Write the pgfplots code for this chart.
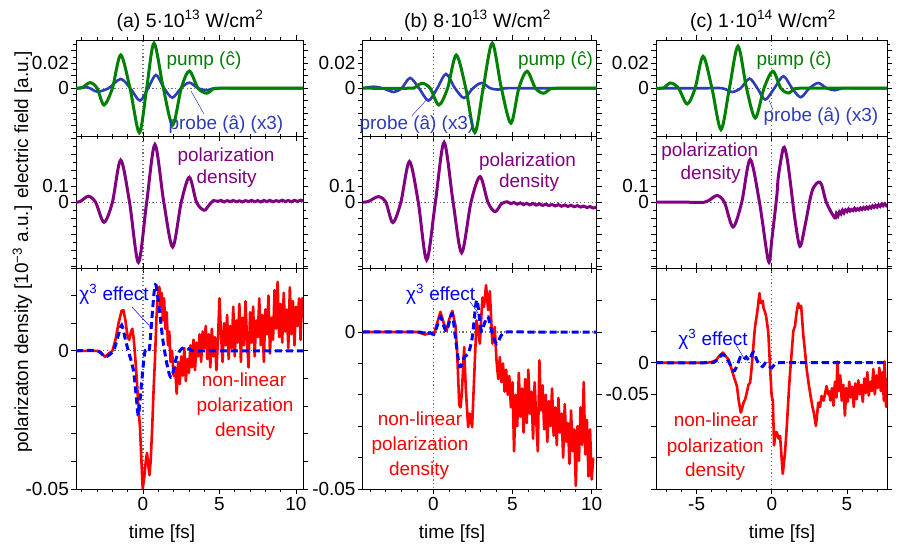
\documentclass[border=0pt]{standalone}
\usepackage{fontspec}
\setmainfont{Liberation Sans}
\usepackage{pgfplots}
\pgfplotsset{compat=1.18}
\definecolor{pumpgreen}{RGB}{0,128,0}
\definecolor{probeblue}{RGB}{45,60,185}
\definecolor{purp}{RGB}{128,0,128}
\definecolor{chiblue}{RGB}{0,0,255}
\definecolor{nlred}{RGB}{255,0,0}
\definecolor{zgray}{RGB}{110,110,110}
\newcommand{\F}{\fontsize{19}{22}\selectfont}
\pgfplotsset{
  base/.style={
    scale only axis, clip=true,
    scaled x ticks=false, scaled y ticks=false,
    axis line style={line width=0.9bp},
    tick align=outside,
    major tick length=5bp, minor tick length=3bp,
    every tick/.style={black, line width=0.7bp},
    tick label style={font=\F},
    yticklabel style={inner xsep=2bp, inner ysep=0bp},
    xticklabels={},
  },
  colA/.style={xmin=-4.38, xmax=10.46, xtick={0,5,10}, minor xtick={-4,-3,-2,-1,1,2,3,4,6,7,8,9}, width=227bp},
  colB/.style={xmin=-4.46, xmax=10.32, xtick={0,5,10}, minor xtick={-4,-3,-2,-1,1,2,3,4,6,7,8,9}, width=234bp},
  colC/.style={xmin=-7.7, xmax=7.66, xtick={-5,0,5}, minor xtick={-7,-6,-4,-3,-2,-1,1,2,3,4,6,7}, width=231bp},
  rowTop/.style={height=96.5bp, ymin=-0.0386, ymax=0.0386,
    ytick={-0.03,-0.02,-0.01,0,0.01,0.02,0.03}, yticklabels={{},{},{},0,{},0.02,{}},
    minor ytick={-0.035,-0.025,-0.015,-0.005,0.005,0.015,0.025,0.035}},
  rowMid/.style={height=131.5bp, ymin=-0.41, ymax=0.41,
    ytick={-0.4,-0.3,-0.2,-0.1,0,0.1,0.2,0.3,0.4}, yticklabels={{},{},{},{},0,0.1,{},{},{}},
    minor ytick={-0.35,-0.25,-0.15,-0.05,0.05,0.15,0.25,0.35}},
  zline/.style={zgray, line width=1.2bp, dash pattern=on 1.2bp off 2.6bp},
  pumpst/.style={pumpgreen, line width=3bp, smooth},
  probest/.style={probeblue, line width=2.6bp, smooth},
  polst/.style={purp, line width=3bp, smooth},
  redst/.style={nlred, line width=2.6bp, line join=round},
  chist/.style={chiblue, line width=3bp, dash pattern=on 7bp off 4bp, smooth},
}
\begin{document}
\begin{tikzpicture}
\path[use as bounding box] (0,0) rectangle (902bp,-548bp);

%% ---------------- column (a) ----------------
\begin{axis}[base, colA, rowTop, at={(76bp,-40bp)}, anchor=north west]
\addplot[zline] coordinates {(-20,0) (20,0)};
\addplot[zline] coordinates {(0,-1) (0,1)};
\addplot[probest] coordinates {(-4.38,0) (-3.6,0.0006) (-3.0,-0.0027) (-2.25,0) (-1.46,0.0074) (-0.83,0) (-0.2,-0.0099) (0.33,0) (0.85,0.0106) (1.38,0) (1.92,-0.0075) (2.48,0) (3.03,0.0045) (3.6,0) (4.2,-0.0015) (4.7,0) (6,0) (10.46,0)};
\addplot[pumpst] coordinates {(-4.38,0) (-4.0,0.0003) (-3.46,0.0045) (-3.0,0) (-2.55,-0.0134) (-2.0,0) (-1.46,0.0266) (-0.85,0) (-0.24,-0.0355) (0.24,0) (0.72,0.036) (1.33,0) (1.94,-0.0294) (2.5,0) (3.03,0.0138) (3.6,0) (4.16,-0.004) (4.6,-0.0005) (5.0,0) (6,0) (10.46,0)};
\end{axis}
\begin{axis}[base, colA, rowMid, at={(76bp,-136.5bp)}, anchor=north west]
\addplot[zline] coordinates {(-20,0) (20,0)};
\addplot[zline] coordinates {(0,-1) (0,1)};
\addplot[polst] coordinates {(-4.38,0) (-4.1,0.005) (-3.57,0.0375) (-3.1,0) (-2.55,-0.125) (-2.0,0) (-1.46,0.263) (-0.88,0) (-0.3,-0.375) (0.24,0) (0.78,0.36) (1.36,0) (1.94,-0.279) (2.5,0) (3.03,0.156) (3.5,0) (3.99,-0.05) (4.3,-0.02) (4.6,0.01) (4.9,0.005) (5.1,0.012) (5.3,0.002) (5.5,0.01) (5.7,0.004) (5.9,0.011) (6.1,0.003) (6.3,0.009) (6.5,0.002) (6.7,0.01) (6.9,0.004) (7.1,0.012) (7.3,0.003) (7.5,0.01) (7.7,0.002) (7.9,0.011) (8.1,0.004) (8.3,0.012) (8.5,0.003) (8.7,0.01) (8.9,0.005) (9.1,0.013) (9.3,0.004) (9.5,0.011) (9.7,0.003) (9.9,0.012) (10.1,0.005) (10.3,0.013) (10.46,0.008)};
\end{axis}
\begin{axis}[base, colA, height=221bp, ymin=-0.05, ymax=0.03,
  ytick={-0.05,-0.04,-0.03,-0.02,-0.01,0,0.01,0.02,0.03}, yticklabels={-0.05,{},{},{},{},0,{},{},{}},
  xticklabels={0,5,10}, at={(76bp,-268bp)}, anchor=north west]
\addplot[zline] coordinates {(-20,0) (20,0)};
\addplot[zline] coordinates {(0,-1) (0,1)};
\addplot[redst] coordinates {(-4.38,0) (-3.0,0) (-2.7,-0.001) (-2.48,-0.0022) (-2.25,-0.001) (-2.0,0) (-1.8,0.004) (-1.6,0.010) (-1.4,0.0145) (-1.28,0.0147) (-1.15,0.011) (-1.0,0.005) (-0.9,0.004) (-0.78,0.007) (-0.7,0.008) (-0.6,0.004) (-0.5,-0.003) (-0.41,-0.010) (-0.3,-0.020) (-0.2,-0.0275) (-0.1,-0.040) (-0.02,-0.0499) (0.08,-0.046) (0.18,-0.040) (0.26,-0.037) (0.34,-0.041) (0.42,-0.045) (0.5,-0.040) (0.6,-0.028) (0.7,-0.013) (0.78,-0.0034) (0.88,0.012) (0.97,0.020) (1.07,0.0232) (1.15,0.016) (1.22,0.021) (1.3,0.011) (1.38,0.019) (1.46,0.008) (1.55,0.014) (1.63,0.002) (1.72,0.007) (1.8,-0.004) (1.9,0.000) (2.0,-0.009) (2.1,-0.006) (2.2,-0.0155) (2.3,-0.004) (2.4,-0.012) (2.5,-0.002) (2.6,-0.009) (2.7,0.001) (2.8,-0.011) (2.9,-0.003) (3.0,-0.008) (3.1,0.002) (3.2,-0.006) (3.3,0.004) (3.4,-0.007) (3.5,0.003) (3.6,-0.002) (3.7,0.006) (3.8,-0.004) (3.9,0.007) (4.0,0.001) (4.1,0.009) (4.2,-0.003) (4.3,0.006) (4.4,-0.006) (4.5,0.008) (4.6,-0.002) (4.7,0.005) (4.8,-0.007) (4.9,0.004) (5.0,0.019) (5.1,0.006) (5.2,-0.004) (5.3,0.010) (5.4,0.002) (5.5,0.013) (5.6,-0.003) (5.7,0.009) (5.8,0.001) (5.9,0.016) (6.0,-0.002) (6.1,0.011) (6.2,0.003) (6.3,0.017) (6.4,-0.004) (6.5,0.012) (6.6,0.002) (6.7,0.018) (6.8,0.004) (6.9,-0.006) (7.0,0.014) (7.1,0.003) (7.2,0.016) (7.3,-0.002) (7.4,0.011) (7.5,0.005) (7.6,0.019) (7.7,0.002) (7.8,0.013) (7.9,-0.004) (8.0,0.015) (8.1,0.006) (8.2,0.020) (8.3,-0.001) (8.4,0.012) (8.5,0.004) (8.6,0.022) (8.7,0.008) (8.8,0.025) (8.9,0.005) (9.0,0.017) (9.1,0.003) (9.2,0.021) (9.3,0.007) (9.4,0.015) (9.5,0.001) (9.6,0.023) (9.7,0.006) (9.8,0.018) (9.9,0.002) (10.0,0.016) (10.1,0.009) (10.2,0.019) (10.3,0.004) (10.4,0.019) (10.46,0.012)};
\addplot[chist] coordinates {(-4.38,0) (-2.95,0) (-2.48,-0.0022) (-1.94,0) (-1.65,0.005) (-1.39,0.0093) (-1.15,0.004) (-0.96,0) (-0.63,-0.007) (-0.45,-0.016) (-0.3,-0.0233) (-0.1,-0.012) (0.1,-0.001) (0.24,0.0003) (0.41,0.0005) (0.6,0.013) (0.72,0.0208) (0.85,0.0238) (1.07,0.0148) (1.33,0.0027) (1.65,-0.007) (1.87,-0.0094) (2.2,-0.0022) (2.53,0.0008) (2.85,0.0012) (3.28,0) (4.5,0) (10.46,0)};
\end{axis}

%% ---------------- column (b) ----------------
\begin{axis}[base, colB, rowTop, at={(362.7bp,-40bp)}, anchor=north west]
\addplot[zline] coordinates {(-20,0) (20,0)};
\addplot[zline] coordinates {(0,-1) (0,1)};
\addplot[probest] coordinates {(-4.46,0) (-3.8,0.0012) (-3.2,0) (-2.5,-0.003) (-2.0,0) (-1.47,0.0082) (-0.9,0) (-0.31,-0.0099) (0.25,0) (0.8,0.0114) (1.37,0) (1.94,-0.0078) (2.5,0) (3.05,0.0042) (3.6,0) (4.1,-0.0011) (4.6,0) (6,0) (10.32,0)};
\addplot[pumpst] coordinates {(-4.46,0) (-1.5,0) (-1.2,0.0004) (-0.7,0.004) (-0.2,0) (0.35,-0.0134) (0.9,0) (1.45,0.0266) (2.05,0) (2.62,-0.0355) (3.15,0) (3.72,0.036) (4.3,0) (4.9,-0.028) (5.4,0) (5.92,0.0136) (6.45,0) (6.95,-0.004) (7.4,-0.0005) (7.8,0) (9,0) (10.32,0)};
\end{axis}
\begin{axis}[base, colB, rowMid, at={(362.7bp,-136.5bp)}, anchor=north west]
\addplot[zline] coordinates {(-20,0) (20,0)};
\addplot[zline] coordinates {(0,-1) (0,1)};
\addplot[polst] coordinates {(-4.46,0) (-4.1,0.005) (-3.47,0.035) (-3.0,0) (-2.56,-0.127) (-2.05,0) (-1.51,0.254) (-0.95,0) (-0.42,-0.36) (0.13,0) (0.68,0.373) (1.25,0) (1.79,-0.315) (2.38,0) (2.95,0.16) (3.45,0) (3.9,-0.059) (4.3,-0.01) (4.65,0.003) (4.9,-0.008) (5.1,-0.002) (5.3,-0.012) (5.5,-0.004) (5.7,-0.015) (5.9,-0.007) (6.1,-0.016) (6.3,-0.008) (6.5,-0.018) (6.7,-0.01) (6.9,-0.02) (7.1,-0.012) (7.3,-0.021) (7.5,-0.014) (7.7,-0.023) (7.9,-0.015) (8.1,-0.025) (8.3,-0.017) (8.5,-0.026) (8.7,-0.019) (8.9,-0.028) (9.1,-0.021) (9.3,-0.03) (9.5,-0.024) (9.7,-0.033) (9.9,-0.027) (10.1,-0.036) (10.32,-0.03)};
\end{axis}
\begin{axis}[base, colB, height=221bp, ymin=-0.05, ymax=0.0204,
  ytick={-0.05,-0.04,-0.03,-0.02,-0.01,0,0.01,0.02}, yticklabels={-0.05,{},{},{},{},0,{},{}},
  xticklabels={0,5,10}, at={(362.7bp,-268bp)}, anchor=north west]
\addplot[zline] coordinates {(-20,0) (20,0)};
\addplot[zline] coordinates {(0,-1) (0,1)};
\addplot[redst] coordinates {(-4.46,0) (-1.0,0) (-0.53,-0.0008) (-0.2,-0.0003) (0.03,-0.001) (0.25,0.003) (0.45,0.0064) (0.65,0.003) (0.83,0.0003) (1.0,0.004) (1.2,0.0067) (1.4,0.002) (1.5,-0.006) (1.64,-0.0233) (1.72,-0.024) (1.8,-0.0196) (1.95,-0.0048) (2.05,-0.018) (2.2,-0.0303) (2.3,-0.026) (2.45,-0.0303) (2.6,-0.012) (2.73,0.0037) (2.84,0.0) (2.94,-0.0037) (3.1,0.011) (3.2,0.008) (3.33,0.0149) (3.46,0.007) (3.57,0.013) (3.73,-0.0037) (3.88,0.0016) (3.99,-0.009) (4.1,-0.015) (4.2,-0.008) (4.3,-0.016) (4.4,-0.010) (4.5,-0.019) (4.6,-0.012) (4.7,-0.020) (4.8,-0.014) (4.9,-0.024) (5.0,-0.016) (5.1,-0.038) (5.2,-0.020) (5.3,-0.030) (5.4,-0.013) (5.5,-0.027) (5.6,-0.018) (5.7,-0.032) (5.8,-0.015) (5.9,-0.029) (6.0,-0.012) (6.1,-0.026) (6.2,-0.019) (6.3,-0.034) (6.4,-0.016) (6.5,-0.028) (6.6,-0.038) (6.7,-0.009) (6.8,-0.025) (6.9,-0.017) (7.0,-0.031) (7.1,-0.020) (7.2,-0.035) (7.3,-0.022) (7.4,-0.030) (7.5,-0.018) (7.6,-0.033) (7.7,-0.024) (7.8,-0.036) (7.9,-0.021) (8.0,-0.032) (8.1,-0.026) (8.2,-0.040) (8.3,-0.023) (8.4,-0.035) (8.5,-0.029) (8.6,-0.042) (8.7,-0.025) (8.8,-0.038) (8.9,-0.031) (9.0,-0.049) (9.1,-0.030) (9.2,-0.041) (9.3,-0.024) (9.4,-0.036) (9.5,-0.016) (9.6,-0.039) (9.7,-0.028) (9.8,-0.046) (9.9,-0.031) (10.0,-0.047) (10.1,-0.040)};
\addplot[chist] coordinates {(-4.46,0) (-1.0,0) (-0.53,-0.0007) (-0.2,-0.0002) (0.03,-0.0007) (0.25,0.002) (0.45,0.0048) (0.65,0.002) (0.83,0.0003) (1.0,0.003) (1.2,0.0058) (1.4,-0.002) (1.67,-0.0111) (1.95,-0.008) (2.2,-0.0069) (2.45,-0.002) (2.73,0.0101) (2.9,0.005) (3.04,0.0003) (3.25,0.003) (3.46,0.0048) (3.7,0.000) (3.99,-0.0037) (4.3,-0.001) (4.62,0) (6,0) (10.32,0)};
\end{axis}

%% ---------------- column (c) ----------------
\begin{axis}[base, colC, rowTop, at={(656bp,-40bp)}, anchor=north west]
\addplot[zline] coordinates {(-20,0) (20,0)};
\addplot[zline] coordinates {(0,-1) (0,1)};
\addplot[probest] coordinates {(-7.7,0) (-4.5,0) (-3.3,0) (-2.65,-0.003) (-2.07,0) (-1.48,0.0077) (-0.96,0) (-0.44,-0.0091) (0.17,0) (0.77,0.0096) (1.35,0) (1.92,-0.0072) (2.5,0) (3.09,0.0042) (3.64,0) (4.19,-0.0016) (4.7,0) (5.5,0) (7.66,0)};
\addplot[pumpst] coordinates {(-7.7,0) (-7.2,0.0003) (-6.73,0.0042) (-6.2,0) (-5.63,-0.0126) (-5.1,0) (-4.57,0.0256) (-3.98,0) (-3.38,-0.0331) (-2.82,0) (-2.25,0.0336) (-1.68,0) (-1.1,-0.0238) (-0.52,0) (0.07,0.0136) (0.6,0) (1.1,-0.0038) (1.5,-0.0005) (1.9,0) (4,0) (7.66,0)};
\end{axis}
\begin{axis}[base, colC, rowMid, at={(656bp,-136.5bp)}, anchor=north west]
\addplot[zline] coordinates {(-20,0) (20,0)};
\addplot[zline] coordinates {(0,-1) (0,1)};
\addplot[polst] coordinates {(-7.7,0) (-5.5,0) (-4.5,0) (-4.2,0.01) (-3.64,0.042) (-3.15,0) (-2.58,-0.154) (-2.0,0) (-1.44,0.267) (-0.82,0) (-0.22,-0.369) (0.0,-0.233) (0.33,0.0375) (0.44,0.163) (0.77,0.34) (0.99,0.288) (1.21,0.142) (1.54,-0.108) (1.87,-0.275) (2.2,-0.15) (2.54,0.017) (2.76,0.09) (3.09,0.125) (3.31,0.11) (3.64,-0.004) (4.19,-0.098) (4.3,-0.07) (4.4,-0.085) (4.5,-0.06) (4.6,-0.072) (4.7,-0.05) (4.8,-0.066) (4.9,-0.048) (5.0,-0.058) (5.1,-0.042) (5.2,-0.055) (5.3,-0.045) (5.4,-0.052) (5.5,-0.038) (5.6,-0.05) (5.7,-0.04) (5.8,-0.048) (5.9,-0.036) (6.0,-0.045) (6.1,-0.033) (6.2,-0.042) (6.3,-0.03) (6.4,-0.04) (6.5,-0.028) (6.6,-0.036) (6.7,-0.022) (6.8,-0.032) (6.9,-0.02) (7.0,-0.03) (7.1,-0.016) (7.2,-0.026) (7.3,-0.012) (7.4,-0.022) (7.5,-0.01) (7.6,-0.02) (7.66,-0.012)};
\end{axis}
\begin{axis}[base, colC, height=221bp, ymin=-0.2, ymax=0.15,
  ytick={-0.2,-0.15,-0.1,-0.05,0,0.05,0.1,0.15}, yticklabels={{},{},{},-0.05,0,{},{},{}},
  xticklabels={-5,0,5}, at={(656bp,-268bp)}, anchor=north west]
\addplot[zline] coordinates {(-20,0) (20,0)};
\addplot[zline] coordinates {(0,-1) (0,1)};
\addplot[redst] coordinates {(-7.7,0) (-4.3,0) (-4.0,0.001) (-3.71,0.004) (-3.45,0.012) (-3.25,0.016) (-3.05,0.010) (-2.88,0.005) (-2.7,-0.008) (-2.54,-0.021) (-2.32,-0.037) (-2.2,-0.06) (-2.06,-0.079) (-1.95,-0.07) (-1.88,-0.063) (-1.77,-0.058) (-1.66,-0.047) (-1.55,-0.035) (-1.44,-0.0315) (-1.35,-0.01) (-1.26,0.0158) (-1.18,0.04) (-1.11,0.058) (-1.03,0.07) (-0.95,0.084) (-0.82,0.110) (-0.75,0.095) (-0.66,0.0941) (-0.6,0.098) (-0.55,0.0867) (-0.45,0.08) (-0.38,0.0736) (-0.3,0.06) (-0.23,0.0473) (-0.12,-0.0053) (-0.01,-0.0526) (0.07,-0.06) (0.15,-0.131) (0.25,-0.11) (0.33,-0.11) (0.45,-0.12) (0.55,-0.116) (0.65,-0.15) (0.73,-0.176) (0.8,-0.16) (0.88,-0.142) (1.0,-0.1) (1.1,-0.058) (1.2,-0.02) (1.32,0.0158) (1.43,0.05) (1.54,0.058) (1.65,0.08) (1.76,0.0941) (1.87,0.0867) (1.95,0.09) (2.1,0.042) (2.2,0.02) (2.32,-0.0105) (2.43,-0.03) (2.54,-0.047) (2.7,-0.07) (2.8,-0.08) (2.93,-0.1) (3.0,-0.085) (3.09,-0.063) (3.2,-0.07) (3.31,-0.0526) (3.45,-0.06) (3.64,-0.037) (3.75,-0.05) (3.8,-0.045) (3.9,-0.060) (4.0,-0.040) (4.1,-0.068) (4.2,-0.030) (4.3,-0.055) (4.36,0.002) (4.45,-0.045) (4.55,-0.020) (4.65,-0.060) (4.75,-0.035) (4.86,-0.084) (4.95,-0.040) (5.05,-0.062) (5.15,-0.030) (5.25,-0.055) (5.35,-0.038) (5.45,-0.070) (5.55,-0.033) (5.65,-0.058) (5.75,-0.028) (5.85,-0.050) (5.95,-0.035) (6.05,-0.062) (6.15,-0.025) (6.25,-0.048) (6.35,-0.015) (6.45,-0.052) (6.55,-0.030) (6.65,-0.045) (6.75,-0.010) (6.85,-0.050) (6.95,-0.020) (7.05,-0.040) (7.15,-0.008) (7.25,-0.045) (7.35,-0.015) (7.45,-0.060) (7.5,0.002) (7.6,-0.070) (7.7,-0.025) (7.8,-0.045)};
\addplot[chist] coordinates {(-7.7,0) (-4.3,0) (-3.75,0.002) (-3.25,0.013) (-2.9,0.003) (-2.54,-0.013) (-2.3,-0.004) (-2.1,0.008) (-1.9,0.004) (-1.7,0.009) (-1.5,0.004) (-1.22,0.017) (-0.95,0.002) (-0.62,-0.006) (-0.45,-0.001) (-0.23,-0.005) (0.0,-0.008) (0.2,-0.002) (0.5,0) (2,0) (7.66,0)};
\end{axis}

%% ---------------- texts ----------------
\begin{scope}[x=1bp, y=-1bp]
\node[anchor=base, font=\fontsize{19.5}{23}\selectfont] at (190,27) {(a) 5·10\textsuperscript{13} W/cm\textsuperscript{2}};
\node[anchor=base, font=\fontsize{19.5}{23}\selectfont] at (477.5,27) {(b) 8·10\textsuperscript{13} W/cm\textsuperscript{2}};
\node[anchor=base, font=\fontsize{19.5}{23}\selectfont] at (763,27) {(c) 1·10\textsuperscript{14} W/cm\textsuperscript{2}};
\node[anchor=base, rotate=90, font=\F] at (28,252) {polarizaton density [10\textsuperscript{−3} a.u.] electric field [a.u.]};
% top row
\node[anchor=base, font=\F, text=pumpgreen] at (204,65) {pump (\^c)};
\node[anchor=base, font=\F, text=probeblue] at (226,129) {probe (\^a) (x3)};
\draw[probeblue, line width=0.5bp] (191,91) -- (204,114);
\node[anchor=base, font=\F, text=pumpgreen] at (555.5,65) {pump (\^c)};
\node[anchor=base, font=\F, text=probeblue] at (417,129) {probe (\^a) (x3)};
\draw[probeblue, line width=0.5bp] (411.7,116) -- (426.7,99.7);
\node[anchor=base, font=\F, text=pumpgreen] at (794,65) {pump (\^c)};
\node[anchor=base, font=\F, text=probeblue] at (821,121) {probe (\^a) (x3)};
\draw[probeblue, line width=0.5bp] (769,100) -- (773,110);
% middle row
\node[anchor=base, font=\F, text=purp] at (226,161.7) {polarization};
\node[anchor=base, font=\F, text=purp] at (226.7,183.3) {density};
\node[anchor=base, font=\F, text=purp] at (527.5,166) {polarization};
\node[anchor=base, font=\F, text=purp] at (529,187.3) {density};
\node[anchor=base, font=\F, text=purp] at (709.7,156) {polarization};
\node[anchor=base, font=\F, text=purp] at (710.5,179.3) {density};
% bottom row
\node[anchor=base, font=\F, text=chiblue] at (114,300) {χ\textsuperscript{3} effect};
\draw[chiblue, line width=0.5bp] (131.7,306.7) -- (151.7,328.3);
\node[anchor=base, font=\F, text=nlred] at (244,386) {non-linear};
\node[anchor=base, font=\F, text=nlred] at (245,411.7) {polarization};
\node[anchor=base, font=\F, text=nlred] at (245,436) {density};
\node[anchor=base, font=\F, text=chiblue] at (440.7,300) {χ\textsuperscript{3} effect};
\draw[chiblue, line width=0.5bp] (470,301.7) -- (478.3,313.3);
\node[anchor=base, font=\F, text=nlred] at (420,425) {non-linear};
\node[anchor=base, font=\F, text=nlred] at (420,450) {polarization};
\node[anchor=base, font=\F, text=nlred] at (419,475) {density};
\node[anchor=base, font=\F, text=chiblue] at (713,345) {χ\textsuperscript{3} effect};
\draw[chiblue, line width=0.5bp] (736,345) -- (744,358.3);
\node[anchor=base, font=\F, text=nlred] at (716,426.7) {non-linear};
\node[anchor=base, font=\F, text=nlred] at (715.3,452.7) {polarization};
\node[anchor=base, font=\F, text=nlred] at (715,476.7) {density};
% x labels
\node[anchor=base, font=\F] at (162,538.3) {time [fs]};
\node[anchor=base, font=\F] at (452,538.3) {time [fs]};
\node[anchor=base, font=\F] at (782,538.3) {time [fs]};
\end{scope}
\end{tikzpicture}
\end{document}
